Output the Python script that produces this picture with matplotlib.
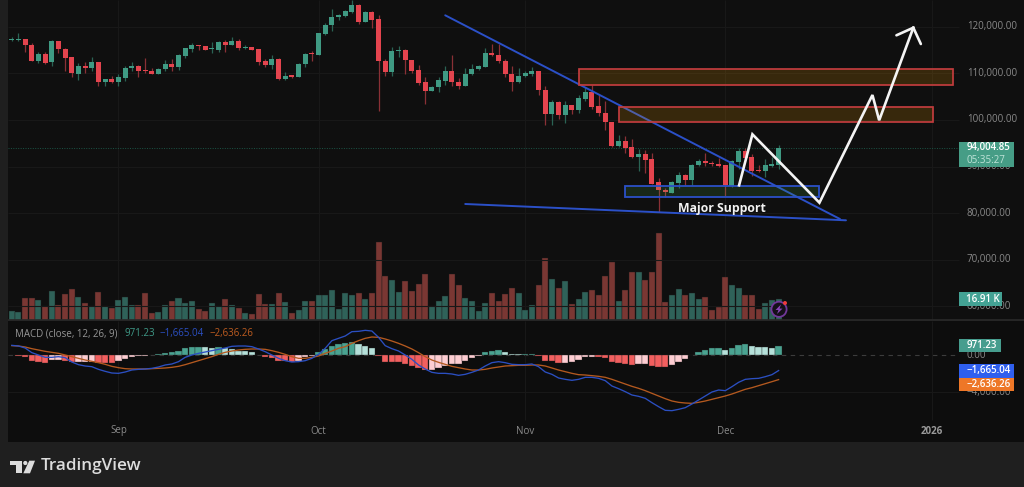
import numpy as np
import matplotlib
matplotlib.use("Agg")
import matplotlib.pyplot as plt
from matplotlib.patches import Rectangle, Polygon, Circle
from matplotlib.transforms import IdentityTransform

plt.rcParams['font.family'] = ['Open Sans', 'DejaVu Sans']

W, H = 1024, 487

# daily BTC candles, index 0 = 16 Aug 2025
opens = [117140, 117140, 117283, 116068, 112564, 114137, 112350, 116854, 115281, 113422,
         109918, 111563, 111063, 112421, 108131, 108775, 108131, 109060, 111063, 111563,
         110634, 110562, 109918, 110920, 111992, 111277, 113708, 115281, 115996, 115853,
         115210, 115067, 116711, 116139, 116997, 115424, 115567, 115138, 112564, 111706,
         113136, 108775, 109561, 109275, 111920, 114352, 113923, 118427, 120286, 122002,
         122288, 123146, 124648, 121073, 123217, 121573, 112707, 110348, 114781, 114995,
         112850, 110634, 108059, 106272, 106987, 108346, 110491, 108203, 107345, 109775,
         110848, 111420, 114423, 113994, 112707, 109918, 108131, 109418, 109918, 110419,
         106486, 101267, 103770, 101124, 103198, 102125, 104485, 105986, 102983, 101553,
         99551, 94403, 95476, 94189, 91972, 92759, 91543, 86610, 84965, 84394,
         86538, 88254, 87110, 90256, 91186, 90756, 90614, 90256, 85823, 91043,
         93331, 91972, 89327, 89040, 90184, 90399]
highs = [117855, 118570, 117426, 116425, 114495, 114638, 117140, 116997, 115424, 113422,
         112278, 112421, 113422, 112421, 108775, 109347, 109775, 111563, 112421, 111706,
         113279, 111134, 111206, 112779, 113136, 114137, 115495, 116568, 116068, 115853,
         116711, 116854, 117140, 117855, 117426, 115996, 115638, 115138, 113136, 113851,
         113279, 110276, 109633, 112135, 114280, 114781, 118570, 120858, 123790, 122717,
         123575, 125720, 124862, 123360, 123432, 122503, 113136, 115710, 115853, 115281,
         112850, 111849, 109132, 107273, 109275, 111635, 113851, 108989, 111063, 111992,
         111849, 115424, 116210, 116282, 112993, 111563, 111063, 110562, 111420, 110562,
         107273, 104270, 103984, 103984, 103269, 105414, 107130, 107416, 105271, 103984,
         99551, 96691, 96548, 95833, 93831, 93545, 92973, 87468, 85465, 86968,
         88898, 88398, 90542, 91686, 92830, 91114, 91900, 90400, 91400, 93974,
         93974, 92687, 90327, 91686, 91971, 94546]
lows = [116925, 116997, 114638, 112564, 112278, 111992, 111635, 114423, 110562, 109132,
        108488, 110133, 110562, 107273, 107201, 107988, 107201, 108346, 110490, 109132,
        109990, 109847, 109847, 110562, 110562, 110705, 113279, 114566, 114995, 114924,
        114280, 114566, 114566, 115996, 114995, 115209, 114995, 111778, 111277, 110920,
        108560, 108488, 108989, 109132, 111420, 112564, 113851, 118284, 119142, 121430,
        122145, 123003, 120572, 121001, 119643, 101911, 109418, 109418, 113565, 109847,
        110133, 107416, 103412, 106129, 105986, 107416, 107273, 106558, 107273, 109633,
        110705, 111277, 113708, 112278, 109132, 106272, 107988, 109132, 109418, 105271,
        98979, 98979, 100123, 99265, 101267, 101410, 104127, 102411, 100838, 97835,
        94117, 94260, 92973, 91757, 89112, 88540, 86252, 80318, 83535, 84250,
        85323, 85966, 85966, 90113, 90113, 90113, 89970, 83678, 85600, 89398,
        91400, 87968, 88898, 87682, 89970, 89398]
closes = [117355, 117283, 116068, 112636, 114137, 112278, 116854, 115138, 113351, 109990,
          111563, 111063, 112421, 108131, 108775, 108131, 109132, 111206, 111635, 110490,
          110419, 109918, 110991, 111992, 111277, 113851, 115353, 115996, 115853, 114995,
          115353, 116711, 116139, 116997, 115424, 115638, 115067, 112421, 111706, 113136,
          108775, 109490, 109204, 112063, 114137, 114065, 118570, 120358, 122074, 122431,
          123360, 124648, 121073, 123217, 121430, 112636, 110276, 114852, 114995, 112779,
          110419, 107988, 106272, 107059, 108488, 110491, 108131, 107345, 109918, 110848,
          111634, 114423, 113923, 112564, 109847, 108131, 109490, 109990, 110419, 106415,
          101339, 103770, 101124, 103269, 102125, 104699, 105986, 102840, 101410, 99479,
          94403, 95476, 94046, 91972, 92759, 91400, 86324, 84894, 84465, 86681,
          88254, 87110, 90399, 91257, 90685, 90542, 90113, 85966, 91186, 93331,
          91757, 89112, 89112, 90256, 90542, 94004.85]

# volume in thousands
volumes = [7.09, 6.55, 17.73, 18.27, 16.36, 11.45, 23.45, 12.0, 21.55, 25.36,
           19.09, 13.91, 11.18, 22.91, 11.18, 9.82, 16.09, 19.09, 12.55, 12.55,
           21.82, 5.45, 6.55, 12.0, 15.82, 18.0, 14.18, 15.82, 8.73, 7.09,
           13.64, 11.45, 17.45, 12.0, 9.82, 5.45, 4.91, 21.27, 13.09, 13.09,
           21.82, 14.73, 6.0, 8.18, 15.82, 15.82, 20.73, 20.18, 24.55, 8.73,
           22.36, 20.18, 21.82, 17.45, 21.82, 63.82, 35.73, 32.45, 22.64, 31.91,
           23.45, 29.73, 37.91, 11.45, 15.82, 19.64, 37.36, 28.64, 18.0, 15.27,
           7.09, 14.18, 21.82, 15.82, 21.27, 25.91, 21.82, 8.18, 12.55, 28.64,
           50.45, 33.55, 25.91, 31.91, 13.09, 16.91, 22.91, 24.27, 20.73, 36.27,
           47.18, 15.82, 24.27, 39.0, 39.55, 32.45, 39.55, 71.45, 14.73, 20.18,
           25.09, 20.18, 22.36, 17.45, 19.09, 8.18, 10.36, 34.91, 28.36, 26.18,
           20.18, 20.18, 9.27, 13.64, 16.36, 16.91]

macd_hist = [-36, -71, -214, -607, -714, -857, -536, -518, -643, -785,
             -750, -732, -714, -821, -857, -875, -678, -428, -178, -107,
             -71, -18, 71, 250, 286, 464, 714, 857, 893, 821,
             785, 821, 714, 643, 428, 411, 286, -10, -250, -286,
             -643, -678, -714, -607, -214, -107, 357, 607, 1000, 1178,
             1285, 1357, 1142, 1000, 750, -71, -750, -768, -785, -964,
             -1178, -1428, -1607, -1589, -1428, -1142, -1000, -964, -643, -321,
             -107, 286, 464, 571, 357, 143, 71, 79, 107, -143,
             -607, -643, -893, -821, -785, -536, -214, -196, -214, -357,
             -750, -893, -928, -1071, -1000, -982, -1178, -1250, -1321, -1107,
             -714, -464, -18, 321, 536, 714, 785, 571, 750, 1071,
             1142, 928, 857, 821, 785, 971.23]
macd_line = [1035, 964, 750, 250, 0, -250, -250, -179, -286, -750,
             -1035, -1178, -1250, -1535, -1749, -1928, -1964, -1821, -1607, -1535,
             -1499, -1428, -1285, -1071, -964, -714, -250, 0, 179, 321,
             464, 607, 750, 928, 964, 964, 893, 643, 357, 0,
             -357, -607, -750, -714, -607, -357, 71, 714, 1535, 1785,
             2035, 2499, 2535, 2642, 2570, 1892, 1000, 678, 428, 0,
             -464, -1071, -1499, -1856, -1964, -1964, -2035, -2178, -2071, -1856,
             -1607, -1178, -821, -714, -821, -1000, -1035, -1035, -964, -1250,
             -1821, -2071, -2463, -2606, -2713, -2606, -2392, -2392, -2499, -2749,
             -3320, -3606, -3927, -4284, -4427, -4641, -5105, -5534, -5926, -5962,
             -5819, -5641, -5248, -4820, -4391, -3963, -3749, -3820, -3392, -2927,
             -2606, -2535, -2499, -2321, -2106, -1665.04]
signal_line = [1000, 964, 857, 678, 536, 393, 286, 179, 0, -179,
               -357, -536, -678, -821, -1000, -1214, -1357, -1464, -1499, -1499,
               -1499, -1464, -1428, -1392, -1321, -1214, -1035, -821, -607, -393,
               -179, 71, 286, 428, 536, 607, 643, 643, 607, 464,
               286, 71, -179, -357, -357, -250, -107, 179, 428, 714,
               893, 1250, 1535, 1785, 1928, 1892, 1714, 1499, 1250, 964,
               643, 250, -179, -536, -785, -1000, -1214, -1357, -1499, -1607,
               -1607, -1535, -1392, -1285, -1178, -1142, -1107, -1107, -1071, -1071,
               -1178, -1392, -1607, -1785, -1964, -2106, -2142, -2213, -2285, -2392,
               -2606, -2856, -3106, -3356, -3570, -3820, -4106, -4391, -4677, -4927,
               -5069, -5141, -5177, -5069, -4927, -4748, -4570, -4391, -4177, -3927,
               -3677, -3499, -3284, -3070, -2856, -2636.26]

last_price = 94004.85
price_ticks = [120000, 110000, 100000, 90000, 80000, 70000, 60000]
month_days = [16, 46, 77, 107, 138]
month_labels = ['Sep', 'Oct', 'Nov', 'Dec', '2026']

# hand drawn levels (day index, price)
trend_upper_x, trend_upper_y = [65.0, 124.2], [122446, 78733]
trend_lower_x, trend_lower_y = [68.0, 125.1], [81952, 78454]
zone_high = (85.0, 141.1, 107425, 110923)
zone_mid = (91.0, 138.1, 99484, 102768)
zone_support = (92.0, 121.1, 83518, 85879)
path_x = [109.07, 111.07, 121.12, 129.07, 130.08, 135.2]
path_y = [85965, 96909, 82230, 105343, 99913, 119785]
head_x = [132.67, 135.2, 136.33]
head_y = [118154, 119785, 116287]

BG = '#1f1f1f'
PANEL = '#0f0f0f'
GRID = '#181818'
GREEN = '#3f9a83'
RED = '#e4444e'
TICK = '#8a8a8a'
WHITE = '#f4f4f4'

days = np.arange(len(opens))
opens, highs, lows, closes = map(np.array, (opens, highs, lows, closes))
up = closes >= opens


def pane(top, bottom):
    # axes placed by pixel rows, x range shared by all panes
    return fig.add_axes([8 / W, 1 - bottom / H, (W - 8) / W, (bottom - top) / H])


def label(x, y, text, color=TICK, size=7.0, weight='normal', ha='left', zorder=6):
    fig.text(x / W, 1 - y / H, text, color=color, fontsize=size, fontweight=weight,
             ha=ha, va='center', zorder=zorder)


def tag(ax, value, text, color, width, above, below, size=7.0):
    # coloured box on the scale, pinned to the row of its value
    row = H - ax.transData.transform((0, value))[1]
    fig.add_artist(Rectangle((959.3, H - row - below), width, above + below, transform=IdentityTransform(),
                             facecolor=color, edgecolor='none', zorder=5))
    return row


fig = plt.figure(figsize=(W / 100, H / 100), dpi=100, facecolor=BG)

ax = pane(0, 320)
ax_vol = pane(0, 320)
ax_macd = pane(320.5, 441.5)
xlim = (-0.57, 151.8)

for a in (ax, ax_vol, ax_macd):
    a.set_xlim(*xlim)
    a.set_xticks([])
    a.set_yticks([])
    for s in a.spines.values():
        s.set_visible(False)
ax.set_zorder(2)
ax_vol.set_zorder(1)
ax_macd.set_zorder(1)
ax.patch.set_visible(False)
ax_vol.set_facecolor(PANEL)
ax_macd.set_facecolor('#0d0d0d')
ax.set_ylim(57060, 125730)
ax_vol.set_ylim(0, 261.8)
ax_macd.set_ylim(-9264, 3695)

# grid
scale_left = (959 - 8) / (W - 8)
ax_vol.vlines(month_days, 0, 1, color=GRID, lw=0.8, transform=ax_vol.get_xaxis_transform())
ax_macd.vlines(month_days, 0.178, 1, color=GRID, lw=0.8, transform=ax_macd.get_xaxis_transform())
ax.hlines(price_ticks, 0, scale_left, color=GRID, lw=0.8, transform=ax.get_yaxis_transform(), zorder=0)
ax_macd.hlines([-4000], 0, scale_left, color=GRID, lw=0.8, transform=ax_macd.get_yaxis_transform())
ax_macd.hlines([0], 0, scale_left, color='#3c3c3c', lw=0.8, linestyles=(0, (4, 4)),
               transform=ax_macd.get_yaxis_transform(), zorder=1)
ax.hlines([last_price], 0, scale_left, color='#1b5546', lw=0.7, linestyles=(0, (1, 1.5)),
          transform=ax.get_yaxis_transform(), zorder=1)

# volume
ax_vol.bar(days, volumes, width=0.9, color=np.where(up, '#2f6259', '#7a3733'),
           edgecolor='#1d1d1d', linewidth=0.3, zorder=2)
ax_vol.axhline(0, color='#2a2a2a', lw=1.2, zorder=3)

# candles
ax.vlines(days, lows, highs, colors=np.where(up, '#2a6354', '#8a3036'), lw=0.9, zorder=2)
ax.bar(days, closes - opens, bottom=opens, width=0.76, color=np.where(up, GREEN, RED),
       edgecolor='none', zorder=3)

# drawn levels
ax.plot(trend_upper_x, trend_upper_y, color='#2b50c8', lw=1.4, zorder=4, solid_capstyle='round')
ax.plot(trend_lower_x, trend_lower_y, color='#2b50c8', lw=1.4, zorder=4, solid_capstyle='round')
for x0, x1, y0, y1 in (zone_high, zone_mid):
    ax.add_patch(Rectangle((x0, y0), x1 - x0, y1 - y0, facecolor='#ffa500', alpha=0.17, edgecolor='none', zorder=5))
    ax.add_patch(Rectangle((x0, y0), x1 - x0, y1 - y0, facecolor='none', edgecolor='#c23c3e', lw=1.25, zorder=5))
x0, x1, y0, y1 = zone_support
ax.add_patch(Rectangle((x0, y0), x1 - x0, y1 - y0, facecolor='#4caf50', alpha=0.16, edgecolor='none', zorder=5))
ax.add_patch(Rectangle((x0, y0), x1 - x0, y1 - y0, facecolor='none', edgecolor='#2b50c8', lw=1.3, zorder=5))
ax.plot(path_x, path_y, color=WHITE, lw=1.9, zorder=6, solid_joinstyle='miter')
ax.plot(head_x, head_y, color=WHITE, lw=1.9, zorder=6, solid_joinstyle='miter', solid_capstyle='round')
ax.text(106.5, 81020, 'Major Support', color='#f2f2f2', fontsize=8.8, fontweight='bold',
        ha='center', va='center', zorder=7)

# macd
hist = np.array(macd_hist, dtype=float)
prev = np.r_[hist[0], hist[:-1]]
hist_colors = np.where(hist >= 0, np.where(hist > prev, '#4aa391', '#b5e0d9'),
                       np.where(hist < prev, '#f25f5f', '#fdcdd2'))
ax_macd.bar(days, hist, width=0.94, color=hist_colors, edgecolor='#222222', linewidth=0.25, zorder=2)
ax_macd.plot(days, signal_line, color='#b4591f', lw=0.95, zorder=3)
ax_macd.plot(days, macd_line, color='#2b4fc2', lw=0.95, zorder=4)

# pane divider
fig.add_artist(Rectangle((8, H - 321), W - 8, 1.2, transform=IdentityTransform(), facecolor='#262626', zorder=1))

# price scale, the tags sit on top of these
for p in price_ticks:
    row = H - ax.transData.transform((0, p))[1]
    label(966.7, row, f'{p:,.2f}', zorder=4)
for v in (0, -4000):
    row = H - ax_macd.transData.transform((0, v))[1]
    label(966.7, row, f'{v:,.2f}'.replace('-', '\u2212'), zorder=4)

row = tag(ax, last_price, '94,004.85', '#469d86', 54.7, 6.3, 19.3)
label(966.5, row, '94,004.85', color='#ffffff', weight=600)
label(966.5, row + 12.5, '05:35:27', color='#bfe3d8')
row = tag(ax_vol, volumes[-1], '16.91 K', '#43a294', 43, 7.3, 6.4)
label(966.5, row, '16.91 K', color='#ffffff', weight=600)
row = tag(ax_macd, macd_hist[-1], '971.23', '#469d8e', 41.4, 6.6, 6.4)
label(966.5, row, '971.23', color='#ffffff', weight=600)
row = tag(ax_macd, macd_line[-1], '\u22121,665.04', '#2f5fee', 55, 6.5, 7.2)
label(966.5, row, '\u22121,665.04', color='#ffffff', weight=600)
row = tag(ax_macd, signal_line[-1], '\u22122,636.26', '#ee7727', 55, 1.9, 11.4)
label(966.5, row + 4.75, '\u22122,636.26', color='#ffffff', weight=600)

# time scale
for d, name in zip(month_days, month_labels):
    col = ax_macd.transData.transform((d, 0))[0]
    label(col, 431, name, ha='center', weight='bold' if name == '2026' else 'normal',
          color='#9a9a9a' if name == '2026' else TICK)

# pane legends
label(15, 333.5, 'MACD (close, 12, 26, 9)', color='#969696')
label(124.5, 333.5, '971.23', color='#3f9a88')
label(160, 333.5, '\u22121,665.04', color='#2b4fc2')
label(210, 333.5, '\u22122,636.26', color='#bd5c20')
label(15, -2, 'Vol \u00b7 BTC', color='#969696')
label(62, -2, '16.91 K', color='#3f9a88')

# alert badge on the last volume bar
fig.add_artist(Circle((779, H - 309.3), 7.6, transform=IdentityTransform(), facecolor='#141018',
                      edgecolor='#71389a', lw=1.3, zorder=4))
fig.add_artist(Polygon([(781, H - 304.5), (775.5, H - 310), (778.5, H - 310), (777, H - 314),
                        (782.5, H - 308.6), (779.5, H - 308.6)], closed=True,
                       transform=IdentityTransform(), facecolor='#8a46b8', edgecolor='none', zorder=5))
fig.add_artist(Circle((785, H - 303), 2, transform=IdentityTransform(), facecolor='#ee3b3b',
                      edgecolor='none', zorder=5))

# wordmark in the footer
logo = '#dcdcdc'
fig.add_artist(Polygon([(10, H - 460.7), (22, H - 460.7), (22, H - 473.3), (15.7, H - 473.3),
                        (15.7, H - 465.3), (10, H - 465.3)], closed=True,
                       transform=IdentityTransform(), facecolor=logo, edgecolor='none', zorder=3))
fig.add_artist(Circle((25.3, H - 463), 2.1, transform=IdentityTransform(), facecolor=logo,
                      edgecolor='none', zorder=3))
fig.add_artist(Polygon([(29.3, H - 460.7), (35, H - 460.7), (30, H - 473.3), (23.3, H - 473.3)], closed=True,
                       transform=IdentityTransform(), facecolor=logo, edgecolor='none', zorder=3))
label(40.5, 466.5, 'TradingView', color=logo, size=12.3, weight=600)

fig.savefig('out.png', dpi=100, facecolor=BG)
